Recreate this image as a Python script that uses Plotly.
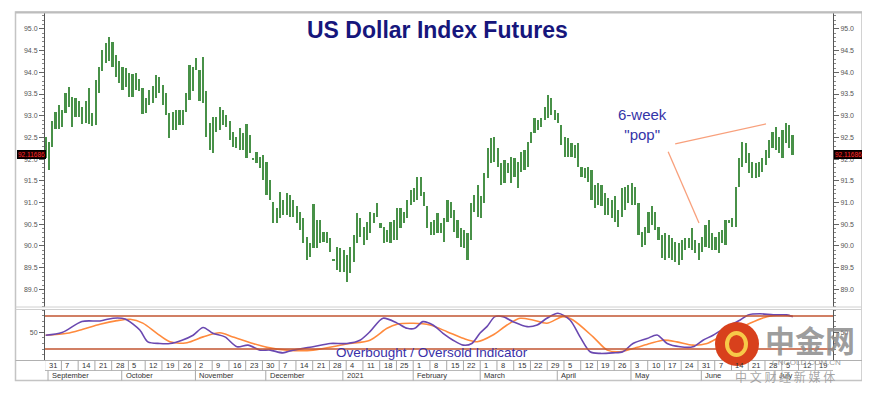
import plotly.graph_objects as go

# ---------------- DATA ----------------
# Daily highs / lows (weekday index 0 = Mon 31 Aug 2020)
high_sep_nov = [92.51,92.40,92.89,93.09,93.25,93.13,93.53,93.67,93.44,93.40,93.34,93.20,93.33,93.63,93.06,93.83,94.13,94.52,94.67,94.81,
                94.71,94.40,94.25,94.13,94.09,93.98,93.96,93.99,93.84,93.63,93.40,93.59,93.69,93.94,93.90,93.71,93.52,93.06,93.09,93.13,
                93.13,93.13,93.52,94.17,94.13,94.32,94.06,94.35,93.56,92.83,92.98,92.98,93.20,93.13,93.02,92.87,92.63,92.52,92.71,92.60,
                92.81,92.56,92.02,92.17,92.06,92.10,91.94,91.52,91.02,90.87,91.25,91.06,91.21,91.18,91.06,90.91,90.79]
low_sep_nov = [92.03,91.75,92.27,92.69,92.70,92.73,93.06,93.20,92.74,92.98,92.97,92.81,92.84,92.81,92.77,92.79,93.52,94.02,94.21,94.25,
               94.13,93.90,93.75,93.59,93.67,93.44,93.43,93.59,93.56,93.04,93.06,93.25,93.29,93.40,93.52,93.25,93.02,92.48,92.67,92.67,
               92.79,92.79,93.09,93.36,93.56,94.06,93.33,93.29,92.52,92.21,92.14,92.63,92.67,92.79,92.75,92.44,92.29,92.25,92.21,92.21,
               92.02,92.14,91.97,91.91,91.79,91.52,91.18,91.06,90.52,90.52,90.64,90.71,90.71,90.67,90.67,90.52,90.37]
high_dec_apr = [90.64,90.21,90.06,90.97,90.60,90.60,90.33,90.33,90.18,89.70,89.98,89.95,89.91,89.79,89.98,90.25,90.75,90.64,90.44,90.56,
                90.79,90.75,90.98,90.52,90.44,90.37,90.56,90.60,90.87,90.87,90.79,91.06,91.29,91.33,91.60,91.60,91.25,90.91,90.56,90.60,
                90.75,90.52,90.64,91.06,91.02,90.83,90.60,90.41,90.37,90.29,90.98,91.18,91.41,91.14,91.67,92.25,92.48,92.52,92.25,91.91,
                91.98,91.91,92.06,92.02,91.94,92.17,92.21,92.40,92.63,92.94,92.90,92.94,93.21,93.48,93.40,93.13,93.06]
low_dec_apr = [90.06,89.68,89.75,89.95,89.95,90.06,90.10,90.06,89.87,89.66,89.45,89.41,89.41,89.18,89.37,89.64,90.06,90.21,90.02,90.14,
               90.29,90.52,90.67,90.41,90.06,90.10,90.06,90.14,90.14,90.41,90.52,90.64,90.94,91.02,91.06,91.14,90.91,90.41,90.25,90.25,
               90.29,90.29,90.10,90.56,90.64,90.33,90.18,89.98,89.95,89.68,90.14,90.79,90.67,90.64,90.98,91.56,91.91,91.94,91.83,91.41,
               91.44,91.67,91.44,91.60,91.33,91.71,91.75,91.83,92.37,92.60,92.67,92.75,92.90,92.94,93.02,92.90,92.83]
high_apr_jul = [92.79,92.52,92.48,92.37,92.33,92.37,91.83,91.79,91.83,91.75,91.41,91.44,91.41,91.21,91.10,91.06,91.14,90.83,91.33,91.37,
                91.41,91.44,91.37,90.98,90.33,90.44,90.79,90.91,90.79,90.44,90.25,90.29,90.25,90.18,90.10,90.06,90.14,90.18,90.18,90.41,
                90.14,90.06,90.21,90.48,90.60,90.29,90.21,90.33,90.37,90.60,90.60,90.64,91.37,92.02,92.40,92.37,92.14,91.94,91.91,91.94,
                92.02,92.21,92.44,92.63,92.75,92.52,92.67,92.83,92.79,92.56]
low_apr_jul = [92.33,92.06,92.06,92.06,92.02,91.83,91.60,91.56,91.48,91.06,90.87,90.94,90.91,90.71,90.71,90.64,90.56,90.44,90.67,90.83,
               90.98,90.94,90.94,90.25,89.98,90.02,90.29,90.48,90.37,90.14,89.72,89.68,89.72,89.68,89.64,89.56,89.68,89.91,89.95,89.91,
               89.83,89.68,89.87,89.98,89.95,89.91,89.91,89.83,90.06,90.02,90.52,90.44,90.44,91.37,91.83,91.91,91.67,91.56,91.56,91.60,
               91.71,91.87,92.02,92.25,92.21,92.14,92.02,92.37,92.25,92.10]
last_price_text = "92.11686"

# Overbought / oversold indicator (weekday index, value)
fast_idx = [0,4.9,10.8,16.2,20.1,23.7,28.1,30.5,34.1,37.1,40.7,44.0,47.0,49.9,53.5,57.1,60.4,64.0,67.0,70.8,
            73.8,79.8,84.9,89.9,93.8,96.8,100.7,104.9,107.9,110.2,112.6,115.6,118.6,121.6,124.6,127.2,129.6,131.7,134.1,136.5,
            139.5,143.7,146.7,149.6,152.9,156.5,159.5,162.5,165.5,169.3,172.3,175.3,179.5,182.5,185.5,189.4,193.2,196.2,199.2,203.4,
            207.3,209.7,213.2,217.2,221.1,223.0]
fast_val = [45,50,70,71,76,74.5,54.5,33,30,30,36,45,59,48.5,42,24,27,18,18,13,
            18,24,30,30,36,51.5,76,67,57.6,57.6,69.7,63.6,48.5,36,27,30,48.5,60.6,78.8,78.8,
            69.7,60.6,63.6,75.8,85,72.7,42,15,12,13,15,30,39,45.5,30,24,24,36,45,60.6,
            72.7,82,84,82,82,78.8]
slow_idx = [0,6.4,11.1,16.2,21.3,25.2,29.0,33.2,37.1,42.2,47.0,52.0,55.9,61.9,66.1,72.0,79.8,89.9,96.8,101.9,
            104.9,109.7,114.7,119.8,124.6,128.8,133.5,137.7,141.6,145.4,149.6,154.4,157.4,163.4,167.6,171.4,175.3,180.4,184.3,188.4,
            193.2,197.4,201.3,206.3,210.2,215.3,219.1,223.0]
slow_val = [45,48.5,56,65,71.5,74,67,48.5,33,31.5,42,49.6,42,30,23,18,18,29,36,57.6,
            65,66.7,63.6,51.5,39.4,33.3,45.5,63.6,75.8,72.7,66.7,78.8,72.7,42,18,15,21,30,36,33,
            27,30,42,54.5,66.7,78.8,82,80]
overbought_level = 80
oversold_level = 20

# Date axis labels (each Monday, weekday index = 5 * position)
week_labels = ["31","7","14","21","28","5","12","19","26","2","9","16","23","30","7","14","21","28",
               "4","11","18","25","1","8","15","22","1","8","15","22","29","5","12","19","26",
               "3","10","17","24","31","7","14","21","28","5","12","19"]
month_labels = ["September","October","November","December","2021","February","March","April","May","June","July"]
month_start_idx = [1,23,45,66,89,110,130,153,175,196,218]

main_ticks = [89.0,89.5,90.0,90.5,91.0,91.5,92.0,92.5,93.0,93.5,94.0,94.5,95.0]

# ---------------- FIGURE ----------------
high = high_sep_nov + high_dec_apr + high_apr_jul
low = low_sep_nov + low_dec_apr + low_apr_jul
assert len(high) == len(low)
xi = list(range(len(high)))

# The page body has an 8px margin; layout is expressed in window pixels.
OFF = 8
WIN_W, WIN_H = 870, 394
W, H = WIN_W - OFF, WIN_H - OFF
PL, PR, PT, PB = 45, 833, 12, 360          # plot area in window pixels
ML, MR, MT, MB = PL - OFF, WIN_W - PR, PT - OFF, WIN_H - PB
PW, PH = PR - PL, PB - PT
def px_x(p):
    return (p - PL) / PW
def px_y(p):
    return (PB - p) / PH

XR = [-0.2, 235.0]
FONT = "Liberation Sans, Arial, sans-serif"

fig = go.Figure()
fig.add_trace(go.Bar(x=xi, base=low, y=[max(h - l, 0.03) for h, l in zip(high, low)],
                     width=0.5, marker=dict(color="rgb(72,145,72)", line=dict(width=0)),
                     xaxis="x", yaxis="y", showlegend=False, hoverinfo="skip"))
fig.add_trace(go.Scatter(x=slow_idx, y=slow_val, mode="lines",
                         line=dict(color="#ff8a3d", width=1.6, shape="spline", smoothing=0.8),
                         xaxis="x2", yaxis="y2", showlegend=False))
fig.add_trace(go.Scatter(x=fast_idx, y=fast_val, mode="lines",
                         line=dict(color="#6a48b0", width=1.6, shape="spline", smoothing=0.8),
                         xaxis="x2", yaxis="y2", showlegend=False))
# dummy traces so right-hand axes render
fig.add_trace(go.Scatter(x=[None], y=[None], xaxis="x", yaxis="y3", showlegend=False))
fig.add_trace(go.Scatter(x=[None], y=[None], xaxis="x2", yaxis="y4", showlegend=False))

main_dom = [px_y(307), 1.0]
ind_dom = [0.0, px_y(309)]
main_rng = [88.594, 95.39]
ind_rng = [0, 92.7]

axis_font = dict(family=FONT, size=7, color="#555555")
yax_main = dict(domain=main_dom, range=main_rng, tickvals=main_ticks,
                ticktext=[f"{v:.1f}" for v in main_ticks], ticks="outside", ticklen=5,
                tickcolor="#666", tickfont=axis_font, showgrid=False, zeroline=False,
                showline=True, linecolor="#555", linewidth=1,
                minor=dict(dtick=0.1, tick0=89.0, ticks="outside", ticklen=2, tickcolor="#888"))
yax_ind = dict(domain=ind_dom, range=ind_rng, tickvals=[50], ticktext=["50"], ticks="outside",
               ticklen=5, tickcolor="#666", tickfont=axis_font, showgrid=False, zeroline=False,
               showline=True, linecolor="#555", linewidth=1,
               minor=dict(dtick=10, tick0=0, ticks="outside", ticklen=2, tickcolor="#888"))

fig.update_layout(
    width=W, height=H, margin=dict(l=ML, r=MR, t=MT, b=MB),
    paper_bgcolor="white", plot_bgcolor="white", bargap=0,
    xaxis=dict(domain=[0, 1], range=XR, anchor="y", showticklabels=False, ticks="",
               showgrid=False, zeroline=False, showline=False),
    xaxis2=dict(domain=[0, 1], range=XR, anchor="y2", matches="x", showticklabels=False,
                ticks="", showgrid=False, zeroline=False, showline=False),
    yaxis=dict(anchor="x", side="left", **yax_main),
    yaxis3=dict(anchor="x", side="right", overlaying="y", **yax_main),
    yaxis2=dict(anchor="x2", side="left", **yax_ind),
    yaxis4=dict(anchor="x2", side="right", overlaying="y2", **yax_ind),
)

shapes = []
grey = "#c4c4c4"
# outer frame
shapes.append(dict(type="rect", xref="paper", yref="paper", x0=px_x(15.5), x1=px_x(862), y0=px_y(380.5),
                   y1=px_y(12), line=dict(color=grey, width=1.5), layer="below"))
shapes.append(dict(type="line", xref="paper", yref="paper", x0=px_x(15.5), x1=px_x(862),
                   y0=px_y(12.5), y1=px_y(12.5), line=dict(color="#bdbdbd", width=2)))
# separators between panels
for yy in (307, 309.5):
    shapes.append(dict(type="line", xref="paper", yref="paper", x0=px_x(15.5), x1=px_x(862),
                       y0=px_y(yy), y1=px_y(yy), line=dict(color="#d0d0d0", width=1)))
shapes.append(dict(type="line", xref="paper", yref="paper", x0=px_x(15.5), x1=px_x(862),
                   y0=px_y(360.5), y1=px_y(360.5), line=dict(color="#b0b0b0", width=1)))
shapes.append(dict(type="line", xref="paper", yref="paper", x0=px_x(45), x1=px_x(833),
                   y0=px_y(370.5), y1=px_y(370.5), line=dict(color="#b8b8b8", width=1)))
# overbought / oversold levels
for lv in (overbought_level, oversold_level):
    shapes.append(dict(type="line", xref="x2 domain", yref="y2", x0=0, x1=1, y0=lv, y1=lv,
                       line=dict(color="#c25530", width=1.6)))
# week cells
for k in range(len(week_labels)):
    xv = 5 * k - 0.3
    shapes.append(dict(type="line", xref="x2", yref="paper", x0=xv, x1=xv,
                       y0=px_y(370.5), y1=px_y(360.5), line=dict(color="#a8a8a8", width=1)))
for m in month_start_idx:
    shapes.append(dict(type="line", xref="x2", yref="paper", x0=m - 0.3, x1=m - 0.3,
                       y0=px_y(380.5), y1=px_y(370.5), line=dict(color="#a8a8a8", width=1)))
# "6-week pop" pointer lines
shapes.append(dict(type="line", xref="x", yref="y", x0=187.9, y0=92.35, x1=215.0, y1=92.81,
                   line=dict(color="#f8a07c", width=1.3)))
shapes.append(dict(type="line", xref="x", yref="y", x0=185.8, y0=92.17, x1=195.0, y1=90.53,
                   line=dict(color="#f8a07c", width=1.3)))
# watermark logo
shapes.append(dict(type="circle", xref="paper", yref="paper", x0=px_x(715), x1=px_x(759),
                   y0=px_y(366), y1=px_y(322), fillcolor="#d8401c", line=dict(width=0)))
shapes.append(dict(type="circle", xref="paper", yref="paper", x0=px_x(727), x1=px_x(746),
                   y0=px_y(355), y1=px_y(333), fillcolor="rgba(0,0,0,0)",
                   line=dict(color="#f7c948", width=4)))

ann = []
ann.append(dict(text="<b>US Dollar Index Futures</b>", xref="paper", yref="paper", x=px_x(437), y=px_y(30),
                showarrow=False, font=dict(family=FONT, size=23, color="#16167c"), xanchor="center", yanchor="middle"))
ann.append(dict(text="6-week<br>\"pop\"", xref="paper", yref="paper", x=px_x(642), y=px_y(125),
                showarrow=False, font=dict(family=FONT, size=15, color="#3434a8"), xanchor="center", yanchor="middle"))
ann.append(dict(text="Overbought / Oversold Indicator", xref="paper", yref="paper", x=px_x(432), y=px_y(352),
                showarrow=False, font=dict(family=FONT, size=13.5, color="#3a30a8"), xanchor="center", yanchor="middle"))
for k, lab in enumerate(week_labels):
    ann.append(dict(text=lab, xref="x2", yref="paper", x=5 * k + 0.3, y=px_y(365.5), showarrow=False,
                    xanchor="left", yanchor="middle", font=dict(family=FONT, size=7.5, color="#333")))
for m, lab in zip(month_start_idx, month_labels):
    ann.append(dict(text=lab, xref="x2", yref="paper", x=m + 0.3, y=px_y(375.5), showarrow=False,
                    xanchor="left", yanchor="middle", font=dict(family=FONT, size=7.5, color="#333")))
for side_px in (31, 848):
    ann.append(dict(text=last_price_text, xref="paper", yref="paper", x=px_x(side_px), y=px_y(154),
                    showarrow=False, xanchor="center", yanchor="middle", bgcolor="#1a0000",
                    bordercolor="#000", borderwidth=1, borderpad=0,
                    font=dict(family=FONT, size=6.5, color="#ff2a2a")))
# watermark text
ann.append(dict(text="<b>中金网</b>", xref="paper", yref="paper", x=px_x(810), y=px_y(339), showarrow=False,
                font=dict(family="Noto Sans CJK SC", size=30, color="rgba(140,140,140,0.85)"),
                xanchor="center", yanchor="middle"))
ann.append(dict(text="CNGOLD.COM.CN", xref="paper", yref="paper", x=px_x(806), y=px_y(362), showarrow=False,
                font=dict(family=FONT, size=8, color="rgba(140,140,140,0.9)"), xanchor="center", yanchor="middle"))
ann.append(dict(text="中 文 财 经 新 媒 体", xref="paper", yref="paper", x=px_x(785), y=px_y(376), showarrow=False,
                font=dict(family="Noto Sans CJK SC", size=12, color="rgba(150,150,150,0.85)"),
                xanchor="center", yanchor="middle"))

fig.update_layout(shapes=shapes, annotations=ann)
fig.write_html("out.html")
